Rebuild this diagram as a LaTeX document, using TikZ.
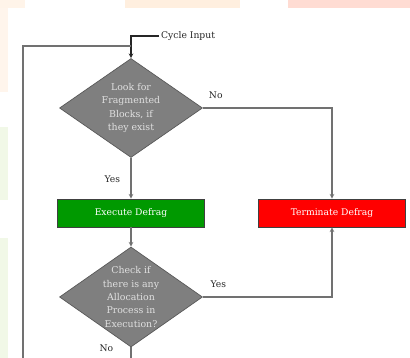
\documentclass[tikz,border=0pt]{standalone}
\usepackage{fontspec}
\setmainfont{DejaVu Serif}
\usetikzlibrary{shapes.geometric}
\definecolor{linegray}{HTML}{717171}
\definecolor{decgray}{HTML}{7F7F7F}
\definecolor{okgreen}{HTML}{009900}
\definecolor{stopred}{HTML}{FF0000}
\definecolor{patchorange}{HTML}{FFEFDF}
\definecolor{patchpink}{HTML}{FFDCD3}
\definecolor{patchgreen}{HTML}{F1F8E7}
\tikzset{
	decision/.style={shape=diamond,draw=black!65,fill=decgray,line width=0.7pt,minimum width=143pt,minimum height=99pt,inner sep=0pt},
	dectext/.style={text=white!88!black,align=center,font=\fontsize{9.4}{13.3}\selectfont},
	process/.style={shape=rectangle,draw=black!75,line width=0.7pt,minimum width=147pt,minimum height=28pt,text=white,font=\fontsize{9.2}{11}\selectfont},
	flow/.style={draw=linegray,line width=1.1pt,>=stealth},
	answer/.style={text=black!85,font=\fontsize{9.2}{11}\selectfont}
}
\begin{document}
\begin{tikzpicture}[x=1pt,y=-1pt]
	\useasboundingbox (0,0) rectangle (410,358);
	% faint patches
	\fill[patchorange!70] (0,0) rectangle (25,8);
	\fill[patchorange] (125,0) rectangle (240,8);
	\fill[patchpink] (288,0) rectangle (410,8);
	\fill[patchorange!60] (0,8) rectangle (8,92);
	\fill[patchgreen] (0,127) rectangle (8,200);
	\fill[patchgreen] (0,238) rectangle (8,358);
	% nodes
	\node[shape=rectangle,anchor=west,inner sep=2pt,font=\fontsize{9.2}{11}\selectfont,text=black!85](cyclein) at (159,36){Cycle Input};
	\node[decision,label={[dectext]center:Look for\\Fragmented\\Blocks, if\\they exist}](look) at (131,108){};
	\node[process,fill=okgreen](execute) at (131,213){Execute Defrag};
	\node[process,fill=stopred](terminate) at (332,213){Terminate Defrag};
	\node[decision,minimum height=100pt,label={[dectext]center:Check if\\there is any\\Allocation\\Process in\\Execution?}](check) at (131,297){};
	\coordinate (loopbot) at (23,358);
	\coordinate (loopjoin) at (131,46);
	\coordinate (nobot) at (131,358);
	% connectors
	\draw[flow,draw=black!85,->] (cyclein.west) -| (look.north);
	\draw[flow] (loopbot) |- (loopjoin);
	\draw[flow,->] (look.east) -| node[answer,pos=0.05,above=5pt]{No}(terminate.north);
	\draw[flow,->] (look.south) -- node[answer,pos=0.53,left=7pt]{Yes}(execute.north);
	\draw[flow,->] (execute.south) -- (check.north);
	\draw[flow,->] (check.east) -| node[answer,pos=0.06,above=5pt]{Yes}(terminate.south);
	\draw[flow] (check.south) -- node[answer,pos=0.1,left=14pt]{No}(nobot);
\end{tikzpicture}
\end{document}
